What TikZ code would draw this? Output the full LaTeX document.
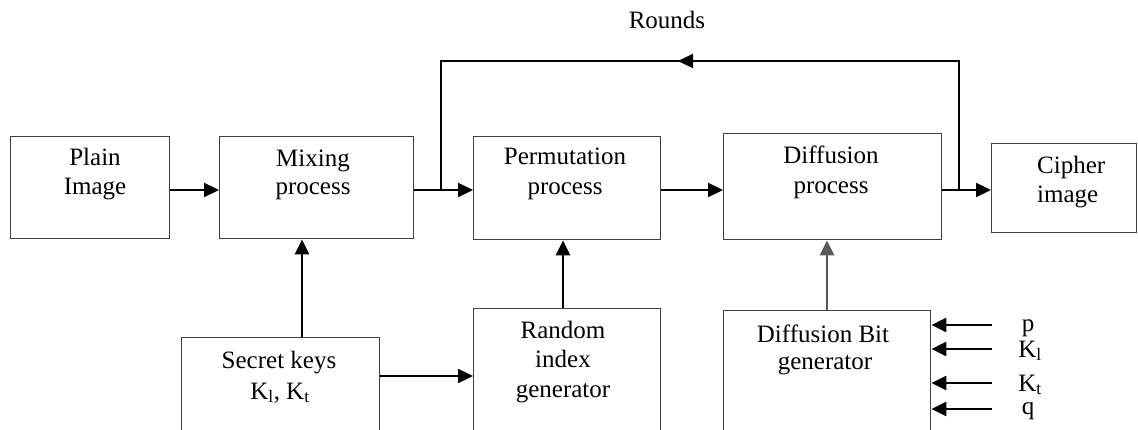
\documentclass[tikz,border=0pt]{standalone}
\usepackage{fontspec}
\setmainfont{Liberation Serif}
\usetikzlibrary{arrows.meta}
\begin{document}
\begin{tikzpicture}[x=1pt,y=-1pt,
  box/.style={draw=black!75, line width=1.4pt, inner sep=0pt, anchor=north west},
  txt/.style={font=\fontsize{25}{29}\selectfont, inner sep=0pt, anchor=base},
  ln/.style={line width=2.3pt, line join=miter},
  arr/.style={line width=2.3pt, -{Triangle[length=15pt,width=14pt]}}]
\useasboundingbox (0,0) rectangle (1138,430);
\clip (0,0) rectangle (1138,430);
% boxes
\node[box,minimum width=159pt,minimum height=102pt] (plain) at (10,136) {};
\node[box,minimum width=194pt,minimum height=102pt] (mix) at (219,136) {};
\node[box,minimum width=187pt,minimum height=103pt] (perm) at (473,136) {};
\node[box,minimum width=218pt,minimum height=106pt] (diff) at (723,133) {};
\node[box,minimum width=145pt,minimum height=89pt] (cipher) at (991,143) {};
\node[box,minimum width=198pt,minimum height=130pt] (keys) at (181,337) {};
\node[box,minimum width=187pt,minimum height=150pt] (rand) at (473,308) {};
\node[box,minimum width=207pt,minimum height=150pt] (dbit) at (723,310) {};
% texts
\node[txt] (tplain1) at (95,166) {Plain};
\node[txt] (tplain2) at (95,195) {Image};
\node[txt] (tmix1) at (313,167) {Mixing};
\node[txt] (tmix2) at (313,195) {process};
\node[txt] (tperm1) at (565,165) {Permutation};
\node[txt] (tperm2) at (565,195) {process};
\node[txt] (tdiff1) at (831,164) {Diffusion};
\node[txt] (tdiff2) at (831,194) {process};
\node[txt,anchor=base west] (tcip1) at (1037,174) {Cipher};
\node[txt,anchor=base west] (tcip2) at (1037,203) {image};
\node[txt] (tkeys1) at (279,368) {Secret keys};
\node[txt] (tkeys2) at (280,399) {K\textsubscript{l}, K\textsubscript{t}};
\node[txt] (trand1) at (563,338) {Random};
\node[txt] (trand2) at (563,367) {index};
\node[txt] (trand3) at (563,397) {generator};
\node[txt] (tdbit1) at (823,342) {Diffusion Bit};
\node[txt] (tdbit2) at (825,370) {generator};
\node[txt] (trounds) at (667,29) {Rounds};
\node[txt] (lp) at (1028,331) {p};
\node[txt] (lkl) at (1030,357) {K\textsubscript{l}};
\node[txt] (lkt) at (1030,391) {K\textsubscript{t}};
\node[txt] (lq) at (1028,414) {q};
% helper coordinates
\coordinate (r) at (0,190);
\coordinate (j1) at (441,190);
\coordinate (j2) at (959,190);
\coordinate (t1) at (441,61);
\coordinate (t2) at (959,61);
\coordinate (tm) at (678,61);
\coordinate (kx) at (302,0);
\coordinate (rx) at (563,0);
\coordinate (dx) at (827,0);
\coordinate (ky) at (0,376);
\coordinate (ip) at (992,325);
\coordinate (il) at (992,349);
\coordinate (it) at (992,383);
\coordinate (iq) at (992,409);
% main flow
\draw[arr] (plain.east |- r) -- (mix.west |- r);
\draw[ln] (mix.east |- r) -- (j1);
\draw[arr] (j1) -- (perm.west |- r);
\draw[arr] (perm.east |- r) -- (diff.west |- r);
\draw[ln] (diff.east |- r) -- (j2);
\draw[arr] (j2) -- (cipher.west |- r);
% rounds loop
\draw[ln] (j2) -- (t2) -- (t1) -- (j1);
\draw[arr] (t2) -- (tm);
% vertical feeds
\draw[arr] (kx |- keys.north) -- (kx |- mix.south);
\draw[arr] (rx |- rand.north) -- (rx |- perm.south);
\draw[arr,draw=black!65] (dx |- dbit.north) -- (dx |- diff.south);
\draw[arr] (keys.east |- ky) -- (rand.west |- ky);
% inputs
\draw[arr] (ip) -- (ip -| dbit.east);
\draw[arr] (il) -- (il -| dbit.east);
\draw[arr] (it) -- (it -| dbit.east);
\draw[arr] (iq) -- (iq -| dbit.east);
\end{tikzpicture}
\end{document}
